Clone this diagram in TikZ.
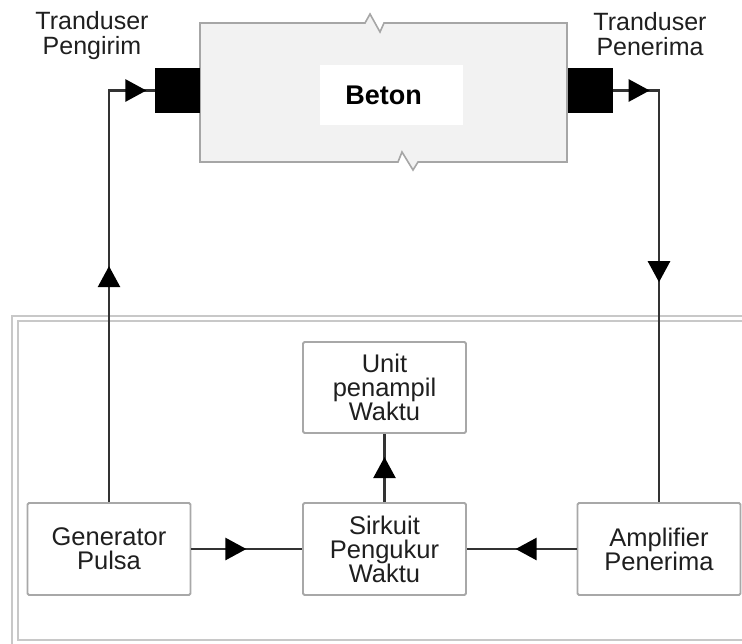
\documentclass[tikz,border=0pt]{standalone}
\usepackage{fontspec}
\setmainfont{Liberation Sans}
\usetikzlibrary{arrows.meta,decorations.markings}
\definecolor{linec}{HTML}{333333}
\definecolor{boxgray}{HTML}{A8A8A8}
\definecolor{framegray}{HTML}{C8C8C8}
\tikzset{
  blk/.style={draw=boxgray, line width=1.8pt, rounded corners=1.5pt, fill=white,
    minimum width=163pt, minimum height=92pt, align=center, inner sep=0pt,
    text=black!88, font=\fontsize{25.5}{24}\selectfont},
  lbl/.style={align=center, inner sep=0pt, text=black!88, font=\fontsize{25}{25}\selectfont},
  conn/.style={draw=linec, line width=2.6pt},
  mk/.style={postaction={decorate, decoration={markings,
    mark=at position #1 with {\arrow[black]{Triangle[length=21pt,width=22pt]}}}}},
  transd/.style={fill=black, minimum size=45pt, inner sep=0pt},
}
\begin{document}
\begin{tikzpicture}[x=1pt,y=-1pt]
\useasboundingbox (0,0) rectangle (742,643);
% outer frame
\draw[framegray, line width=1.5pt] (745,316) -- (12,316) -- (12,650);
\draw[framegray, line width=1.5pt] (745,321) -- (18,321) -- (18,640) -- (745,640);
% concrete block
\draw[draw=gray!70, line width=1.6pt, fill=black!5]
  (200,23) -- (365,23) -- (370,14) -- (380,32) -- (384,23) -- (567,23)
  -- (567,162) -- (418,162) -- (413,170) -- (402,152) -- (398,162) -- (200,162) -- cycle;
\node[fill=white, minimum width=143pt, minimum height=60pt, inner sep=0pt,
  font=\bfseries\fontsize{27}{27}\selectfont] (beton) at (391.5,95) {Beton\hspace*{16pt}};
% transducers
\node[transd] (tl) at (177.5,90.5) {};
\node[transd] (tr) at (590,90.5) {};
\node[lbl] (ltl) at (92,36) {Tranduser\\Pengirim};
\node[lbl] (ltr) at (650,34) {Tranduser\\Penerima};
% blocks
\node[blk] (gen) at (109,549) {Generator\\Pulsa};
\node[blk] (sirk) at (384.5,549) {Sirkuit\\Pengukur\\Waktu};
\node[blk] (amp) at (659,549) {Amplifier\\Penerima};
\node[blk, minimum height=91pt] (unit) at (384.5,387.5) {Unit\\penampil\\Waktu};
% connectors
\draw[conn, mk=236pt, mk=449pt] (gen.north) |- (tl.west);
\draw[conn, mk=37pt, mk=238pt] (tr.east) -| (amp.north);
\draw[conn, mk=55pt] (gen.east) -- (sirk.west);
\draw[conn, mk=61pt] (amp.west) -- (sirk.east);
\draw[conn, mk=45pt] (sirk.north) -- (unit.south);
\end{tikzpicture}
\end{document}
